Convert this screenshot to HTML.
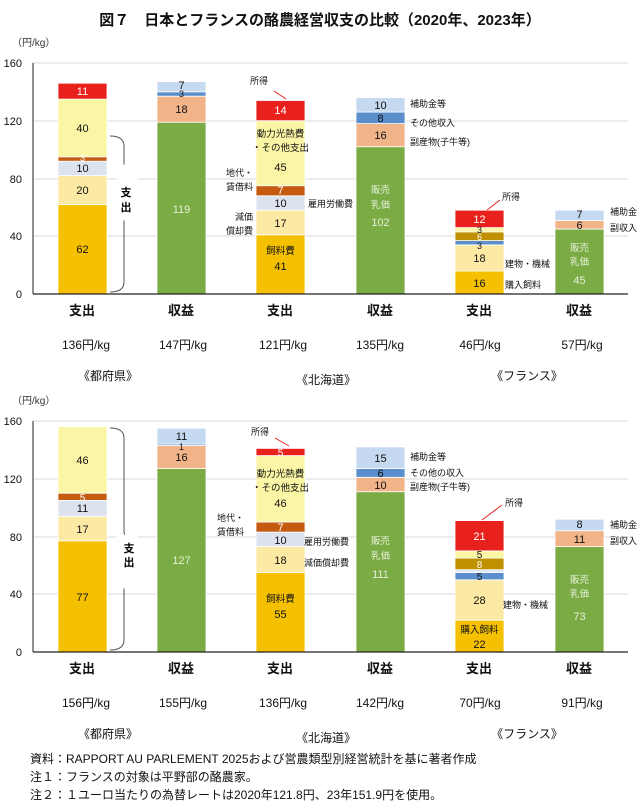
<!DOCTYPE html>
<html><head><meta charset="utf-8"><style>
html,body{margin:0;padding:0;background:#fff;}
svg{display:block;font-family:"Liberation Sans","Noto Sans CJK JP",sans-serif;}
.t{font-size:11px;text-anchor:middle;fill:#111;}
.w{font-size:11px;text-anchor:middle;fill:#fff;}
.g{font-size:11px;text-anchor:middle;fill:#e6f0d8;}
.a{font-size:9px;fill:#111;}
.ar{font-size:9px;fill:#111;text-anchor:end;}
.am{font-size:9.5px;fill:#111;text-anchor:middle;}
.ag{font-size:9.5px;fill:#e6f0d8;text-anchor:middle;}
.yl{font-size:11px;text-anchor:end;fill:#111;}
.c1{font-size:13px;font-weight:bold;text-anchor:middle;fill:#111;}
.c2{font-size:12px;text-anchor:middle;fill:#111;}
.grid{stroke:#d9d9d9;stroke-width:1;}
rect{stroke:#fff;stroke-width:0.8;}
</style></head><body>
<svg width="640" height="802" viewBox="0 0 640 802">
<text x="320" y="25" style="font-size:15px;font-weight:bold;text-anchor:middle;fill:#111">図７　日本とフランスの酪農経営収支の比較（2020年、2023年）</text>

<!-- ===== Chart 1 ===== -->
<text x="12" y="46" style="font-size:10px;fill:#333">（円/kg）</text>
<g class="grid">
<line x1="33" y1="63" x2="628" y2="63"/><line x1="33" y1="121" x2="628" y2="121"/><line x1="33" y1="179" x2="628" y2="179"/><line x1="33" y1="236" x2="628" y2="236"/>
</g>
<text class="yl" x="22" y="67">160</text><text class="yl" x="22" y="125">120</text><text class="yl" x="22" y="183">80</text><text class="yl" x="22" y="240">40</text><text class="yl" x="22" y="298">0</text>
<!-- bar1 -->
<rect x="58" y="204.5" width="49" height="89.5" fill="#f5c000"/>
<rect x="58" y="175.6" width="49" height="28.9" fill="#fce9a3"/>
<rect x="58" y="161.2" width="49" height="14.4" fill="#dde3ee"/>
<rect x="58" y="156.8" width="49" height="4.4" fill="#c55a11"/>
<rect x="58" y="99.1" width="49" height="57.7" fill="#fbf6a6"/>
<rect x="58" y="83.2" width="49" height="15.9" fill="#e8211d"/>
<text class="t" x="82.5" y="253">62</text><text class="t" x="82.5" y="194">20</text><text class="t" x="82.5" y="172">10</text><text class="w" x="82.5" y="161" style="font-size:9px">3</text><text class="t" x="82.5" y="132">40</text><text class="w" x="82.5" y="95">11</text>
<path d="M110 136 Q124 136 124 146 L124 205 Q124 214 130 214 Q124 214 124 223 L124 282 Q124 292 110 292" fill="none" stroke="#555" stroke-width="1"/>
<rect x="117" y="165" width="20" height="55" fill="#fff" stroke="none"/>
<text x="126" y="196" style="font-size:11px;font-weight:bold;text-anchor:middle">支</text>
<text x="126" y="211" style="font-size:11px;font-weight:bold;text-anchor:middle">出</text>
<!-- bar2 -->
<rect x="157" y="122.2" width="49" height="171.8" fill="#7aab44"/>
<rect x="157" y="96.2" width="49" height="26" fill="#f0b488"/>
<rect x="157" y="91.8" width="49" height="4.4" fill="#5b8fcc"/>
<rect x="157" y="81.7" width="49" height="10.1" fill="#c5d9f0"/>
<text class="g" x="181.5" y="213">119</text><text class="t" x="181.5" y="113">18</text><text class="t" x="181.5" y="97" style="font-size:9px">3</text><text class="t" x="181.5" y="89">7</text>
<!-- bar3 -->
<rect x="256" y="234.8" width="49" height="59.2" fill="#f5c000"/>
<rect x="256" y="210.2" width="49" height="24.6" fill="#fce9a3"/>
<rect x="256" y="195.8" width="49" height="14.4" fill="#dde3ee"/>
<rect x="256" y="185.7" width="49" height="10.1" fill="#c55a11"/>
<rect x="256" y="120.7" width="49" height="65" fill="#fbf6a6"/>
<rect x="256" y="100.5" width="49" height="20.2" fill="#e8211d"/>
<text class="am" x="280.5" y="254">飼料費</text><text class="t" x="280.5" y="270">41</text>
<text class="t" x="280.5" y="227">17</text><text class="t" x="280.5" y="207">10</text><text class="w" x="280.5" y="194">7</text>
<text class="am" x="280.5" y="137">動力光熱費</text><text class="am" x="280.5" y="151">・その他支出</text><text class="t" x="280.5" y="171">45</text>
<text class="w" x="280.5" y="114">14</text>
<text class="a" x="250" y="84">所得</text><line x1="274" y1="91" x2="286" y2="99" stroke="#e8211d"/>
<text class="ar" x="253" y="176">地代・</text><text class="ar" x="253" y="190">賃借料</text>
<text class="a" x="308" y="207">雇用労働費</text>
<text class="ar" x="253" y="220">減価</text><text class="ar" x="253" y="234">償却費</text>
<!-- bar4 -->
<rect x="356" y="146.7" width="49" height="147.3" fill="#7aab44"/>
<rect x="356" y="123.6" width="49" height="23.1" fill="#f0b488"/>
<rect x="356" y="112.1" width="49" height="11.5" fill="#5b8fcc"/>
<rect x="356" y="97.6" width="49" height="14.5" fill="#c5d9f0"/>
<text class="ag" x="380.5" y="193">販売</text><text class="ag" x="380.5" y="208">乳価</text><text class="g" x="380.5" y="226">102</text>
<text class="t" x="380.5" y="139">16</text><text class="t" x="380.5" y="122">8</text><text class="t" x="380.5" y="109">10</text>
<text class="a" x="410" y="107">補助金等</text><text class="a" x="410" y="126">その他収入</text><text class="a" x="410" y="145">副産物(子牛等)</text>
<!-- bar5 -->
<rect x="455" y="270.9" width="49" height="23.1" fill="#f5c000"/>
<rect x="455" y="244.9" width="49" height="26" fill="#fce9a3"/>
<rect x="455" y="240.6" width="49" height="4.3" fill="#5b8fcc"/>
<rect x="455" y="231.9" width="49" height="8.7" fill="#bf9000"/>
<rect x="455" y="227.6" width="49" height="4.3" fill="#fbf6a6"/>
<rect x="455" y="210.2" width="49" height="17.4" fill="#e8211d"/>
<text class="t" x="479.5" y="287">16</text><text class="t" x="479.5" y="262">18</text><text class="t" x="479.5" y="249" style="font-size:9px">3</text><text class="w" x="479.5" y="240" style="font-size:9px">6</text><text class="t" x="479.5" y="233" style="font-size:9px">3</text><text class="w" x="479.5" y="223">12</text>
<text class="a" x="502" y="200">所得</text><line x1="487" y1="210" x2="500" y2="200" stroke="#e8211d"/>
<text class="a" x="505" y="267">建物・機械</text><text class="a" x="505" y="288">購入飼料</text>
<!-- bar6 -->
<rect x="555" y="229" width="49" height="65" fill="#7aab44"/>
<rect x="555" y="220.4" width="49" height="8.6" fill="#f0b488"/>
<rect x="555" y="210.2" width="49" height="10.2" fill="#c5d9f0"/>
<text class="ag" x="579.5" y="251">販売</text><text class="ag" x="579.5" y="265">乳価</text><text class="g" x="579.5" y="284">45</text>
<text class="t" x="579.5" y="229">6</text><text class="t" x="579.5" y="218">7</text>
<text class="a" x="610" y="215">補助金</text><text class="a" x="610" y="231">副収入</text>
<line x1="33" y1="63" x2="33" y2="294" stroke="#222"/><line x1="33" y1="294" x2="628" y2="294" stroke="#222" stroke-width="1.2"/>
<text class="c1" x="82" y="315">支出</text><text class="c1" x="181" y="315">収益</text><text class="c1" x="280" y="315">支出</text><text class="c1" x="380" y="315">収益</text><text class="c1" x="479" y="315">支出</text><text class="c1" x="579" y="315">収益</text>
<text class="c2" x="86" y="349">136円/kg</text><text class="c2" x="183" y="349">147円/kg</text><text class="c2" x="283" y="349">121円/kg</text><text class="c2" x="380" y="349">135円/kg</text><text class="c2" x="480" y="349">46円/kg</text><text class="c2" x="582" y="349">57円/kg</text>
<text class="c2" x="108" y="380">《都府県》</text><text class="c2" x="326" y="384">《北海道》</text><text class="c2" x="527" y="380">《フランス》</text>

<!-- ===== Chart 2 ===== -->
<text x="12" y="404" style="font-size:10px;fill:#333">（円/kg）</text>
<g class="grid">
<line x1="33" y1="421" x2="628" y2="421"/><line x1="33" y1="479" x2="628" y2="479"/><line x1="33" y1="537" x2="628" y2="537"/><line x1="33" y1="594" x2="628" y2="594"/>
</g>
<text class="yl" x="22" y="425">160</text><text class="yl" x="22" y="483">120</text><text class="yl" x="22" y="541">80</text><text class="yl" x="22" y="598">40</text><text class="yl" x="22" y="656">0</text>
<!-- bar1 -->
<rect x="58" y="540.8" width="49" height="111.2" fill="#f5c000"/>
<rect x="58" y="516.3" width="49" height="24.5" fill="#fce9a3"/>
<rect x="58" y="500.4" width="49" height="15.9" fill="#dde3ee"/>
<rect x="58" y="493.2" width="49" height="7.2" fill="#c55a11"/>
<rect x="58" y="426.7" width="49" height="66.5" fill="#fbf6a6"/>
<text class="t" x="82.5" y="601">77</text><text class="t" x="82.5" y="533">17</text><text class="t" x="82.5" y="512">11</text><text class="w" x="82.5" y="501" style="font-size:10px">5</text><text class="t" x="82.5" y="464">46</text>
<path d="M110 428 Q124 428 124 438 L124 530 Q124 539 130 539 Q124 539 124 548 L124 640 Q124 650 110 650" fill="none" stroke="#555" stroke-width="1"/>
<rect x="117" y="535" width="20" height="53" fill="#fff" stroke="none"/>
<text x="129" y="552" style="font-size:11px;font-weight:bold;text-anchor:middle">支</text>
<text x="129" y="566" style="font-size:11px;font-weight:bold;text-anchor:middle">出</text>
<!-- bar2 -->
<rect x="157" y="468.6" width="49" height="183.4" fill="#7aab44"/>
<rect x="157" y="445.5" width="49" height="23.1" fill="#f0b488"/>
<rect x="157" y="444.1" width="49" height="1.4" fill="#5b8fcc"/>
<rect x="157" y="428.2" width="49" height="15.9" fill="#c5d9f0"/>
<text class="g" x="181.5" y="564">127</text><text class="t" x="181.5" y="461">16</text><text class="t" x="181.5" y="450" style="font-size:9px">1</text><text class="t" x="181.5" y="440">11</text>
<!-- bar3 -->
<rect x="256" y="572.6" width="49" height="79.4" fill="#f5c000"/>
<rect x="256" y="546.6" width="49" height="26" fill="#fce9a3"/>
<rect x="256" y="532.1" width="49" height="14.5" fill="#dde3ee"/>
<rect x="256" y="522" width="49" height="10.1" fill="#c55a11"/>
<rect x="256" y="455.6" width="49" height="66.4" fill="#fbf6a6"/>
<rect x="256" y="448.4" width="49" height="7.2" fill="#e8211d"/>
<text class="am" x="280.5" y="602">飼料費</text><text class="t" x="280.5" y="618">55</text>
<text class="t" x="280.5" y="564">18</text><text class="t" x="280.5" y="544">10</text><text class="w" x="280.5" y="531">7</text>
<text class="am" x="280.5" y="477">動力光熱費</text><text class="am" x="280.5" y="491">・その他支出</text><text class="t" x="280.5" y="507">46</text>
<text class="w" x="280.5" y="456" style="font-size:10px">5</text>
<text class="a" x="251" y="435">所得</text><line x1="275" y1="438" x2="289" y2="446" stroke="#e8211d"/>
<text class="ar" x="244" y="521">地代・</text><text class="ar" x="244" y="535">賃借料</text>
<text class="a" x="304" y="545">雇用労働費</text><text class="a" x="304" y="566">減価償却費</text>
<!-- bar4 -->
<rect x="356" y="491.7" width="49" height="160.3" fill="#7aab44"/>
<rect x="356" y="477.3" width="49" height="14.4" fill="#f0b488"/>
<rect x="356" y="468.6" width="49" height="8.7" fill="#5b8fcc"/>
<rect x="356" y="446.9" width="49" height="21.7" fill="#c5d9f0"/>
<text class="ag" x="380.5" y="544">販売</text><text class="ag" x="380.5" y="559">乳価</text><text class="g" x="380.5" y="578">111</text>
<text class="t" x="380.5" y="489">10</text><text class="t" x="380.5" y="477">6</text><text class="t" x="380.5" y="462">15</text>
<text class="a" x="410" y="460">補助金等</text><text class="a" x="410" y="476">その他の収入</text><text class="a" x="410" y="490">副産物(子牛等)</text>
<!-- bar5 -->
<rect x="455" y="620.2" width="49" height="31.8" fill="#f5c000"/>
<rect x="455" y="579.8" width="49" height="40.4" fill="#fce9a3"/>
<rect x="455" y="572.6" width="49" height="7.2" fill="#5b8fcc"/>
<rect x="455" y="569.7" width="49" height="2.9" fill="#dde8f5"/>
<rect x="455" y="558.1" width="49" height="11.6" fill="#bf9000"/>
<rect x="455" y="550.9" width="49" height="7.2" fill="#fbf6a6"/>
<rect x="455" y="520.6" width="49" height="30.3" fill="#e8211d"/>
<text class="am" x="479.5" y="633">購入飼料</text><text class="t" x="479.5" y="648">22</text>
<text class="t" x="479.5" y="604">28</text><text class="t" x="479.5" y="580" style="font-size:10px">5</text><text class="w" x="479.5" y="568" style="font-size:10px">8</text><text class="t" x="479.5" y="558" style="font-size:10px">5</text><text class="w" x="479.5" y="540">21</text>
<text class="a" x="505" y="506">所得</text><line x1="482" y1="520" x2="502" y2="505" stroke="#e8211d"/>
<text class="a" x="503" y="608">建物・機械</text>
<!-- bar6 -->
<rect x="555" y="546.6" width="49" height="105.4" fill="#7aab44"/>
<rect x="555" y="530.7" width="49" height="15.9" fill="#f0b488"/>
<rect x="555" y="519.2" width="49" height="11.5" fill="#c5d9f0"/>
<text class="ag" x="579.5" y="583">販売</text><text class="ag" x="579.5" y="597">乳価</text><text class="g" x="579.5" y="620">73</text>
<text class="t" x="579.5" y="543">11</text><text class="t" x="579.5" y="528">8</text>
<text class="a" x="610" y="528">補助金</text><text class="a" x="610" y="544">副収入</text>
<line x1="33" y1="421" x2="33" y2="652" stroke="#222"/><line x1="33" y1="652" x2="628" y2="652" stroke="#222" stroke-width="1.2"/>
<text class="c1" x="82" y="673">支出</text><text class="c1" x="181" y="673">収益</text><text class="c1" x="280" y="673">支出</text><text class="c1" x="380" y="673">収益</text><text class="c1" x="479" y="673">支出</text><text class="c1" x="579" y="673">収益</text>
<text class="c2" x="86" y="707">156円/kg</text><text class="c2" x="183" y="707">155円/kg</text><text class="c2" x="283" y="707">136円/kg</text><text class="c2" x="380" y="707">142円/kg</text><text class="c2" x="480" y="707">70円/kg</text><text class="c2" x="582" y="707">91円/kg</text>
<text class="c2" x="108" y="738">《都府県》</text><text class="c2" x="326" y="742">《北海道》</text><text class="c2" x="527" y="738">《フランス》</text>

<text x="30" y="763" style="font-size:12px;fill:#111">資料：RAPPORT AU PARLEMENT 2025および営農類型別経営統計を基に著者作成</text>
<text x="30" y="781" style="font-size:12px;fill:#111">注１：フランスの対象は平野部の酪農家。</text>
<text x="30" y="799" style="font-size:12px;fill:#111">注２：１ユーロ当たりの為替レートは2020年121.8円、23年151.9円を使用。</text>
</svg>
</body></html>
